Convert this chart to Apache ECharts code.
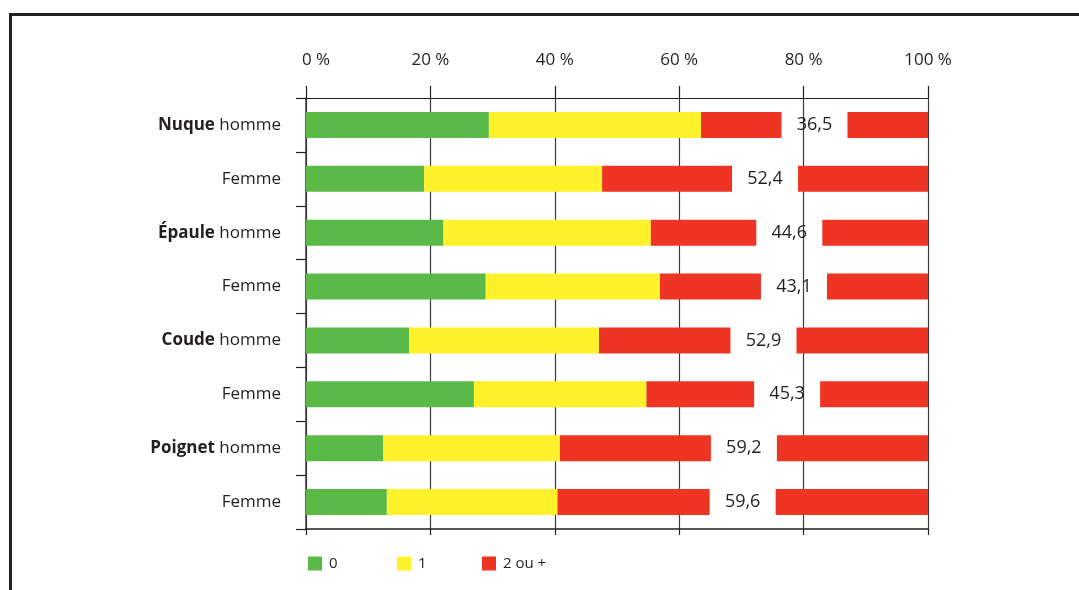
<!DOCTYPE html>
<html>
<head>
<meta charset="utf-8">
<script src="https://cdn.jsdelivr.net/npm/echarts@6/dist/echarts.min.js"></script>
<style>
  html, body { margin: 0; padding: 0; background: #fff; }
  #frame { position: absolute; left: 9px; top: 13px; width: 1200px; height: 700px;
           border-left: 3px solid #231f20; border-top: 3px solid #231f20; }
  #chart { position: absolute; left: 0; top: 0; width: 1079px; height: 590px; }
</style>
</head>
<body>
<div id="frame"></div>
<div id="chart"></div>
<script>
// Share of respondents by number of painful episodes, per joint and sex (%)
const categories = ['Nuque homme', 'Femme', 'Épaule homme', 'Femme', 'Coude homme', 'Femme', 'Poignet homme', 'Femme'];
const seriesNames = ['0', '1', '2 ou +'];
const zero    = [29.4, 19.0, 22.1, 28.9, 16.6, 27.0, 12.4, 13.0];
const one     = [34.1, 28.6, 33.3, 28.0, 30.5, 27.7, 28.4, 27.4];
const twoPlus = [36.5, 52.4, 44.6, 43.1, 52.9, 45.3, 59.2, 59.6];
const xTicks  = [0, 20, 40, 60, 80, 100];

const GREEN = '#5bba47', YELLOW = '#fff12a', RED = '#ee3524', INK = '#231f20';
const BAR_H = 26, GAP = 66;

const chart = echarts.init(document.getElementById('chart'), null, { renderer: 'canvas' });

// red segment: two pieces separated by a gap that holds the value
function renderRed(params, api) {
  const cat = api.value(0), start = api.value(1), val = api.value(2);
  const p0 = api.coord([start, cat]);
  const p1 = api.coord([start + val, cat]);
  const y = p0[1] - BAR_H / 2;
  const mid = (p0[0] + p1[0]) / 2;
  const style = { fill: RED };
  return {
    type: 'group',
    children: [
      { type: 'rect', shape: { x: p0[0], y: y, width: mid - GAP / 2 - p0[0], height: BAR_H }, style: style },
      { type: 'rect', shape: { x: mid + GAP / 2, y: y, width: p1[0] - mid - GAP / 2, height: BAR_H }, style: style },
      { type: 'text', x: mid, y: p0[1],
        style: { text: val.toFixed(1).replace('.', ','), fill: INK, fontSize: 18,
                 fontFamily: 'Open Sans', align: 'center', verticalAlign: 'middle' } }
    ]
  };
}

const legendBase = {
  top: 556, padding: 0, icon: 'rect', itemWidth: 14, itemHeight: 14, itemGap: 0,
  textStyle: { fontSize: 15, color: INK, fontFamily: 'Open Sans', padding: [0, 0, 0, 2] }
};

chart.setOption({
  animation: false,
  textStyle: { fontFamily: 'Open Sans' },
  grid: { left: 306, right: 151, top: 98, bottom: 61, containLabel: false },
  legend: [
    Object.assign({}, legendBase, { left: 308, data: [seriesNames[0]] }),
    Object.assign({}, legendBase, { left: 397, data: [seriesNames[1]] }),
    Object.assign({}, legendBase, { left: 482, data: [seriesNames[2]] })
  ],
  xAxis: [
    {
      type: 'value', position: 'top', min: xTicks[0], max: xTicks[xTicks.length - 1], interval: 20,
      axisLine: { show: true, lineStyle: { color: INK, width: 1.2 } },
      axisTick: { show: true, length: 12, lineStyle: { color: INK, width: 1.2 } },
      axisLabel: {
        margin: 29, color: INK, fontFamily: 'Open Sans', fontSize: 17,
        // the first label sits just right of its tick
        formatter: v => (v === xTicks[0] ? '{first|' : '{t|') + v + ' %}',
        rich: {
          t: { fontSize: 17, color: INK, fontFamily: 'Open Sans' },
          first: { fontSize: 17, color: INK, fontFamily: 'Open Sans', padding: [0, 0, 0, 20] }
        }
      },
      splitLine: { show: true, lineStyle: { color: '#3a3a3a', width: 1.2 } }
    },
    {
      type: 'value', position: 'bottom', min: xTicks[0], max: xTicks[xTicks.length - 1], interval: 20,
      axisLine: { show: true, lineStyle: { color: INK, width: 1.5 } },
      axisTick: { show: true, length: 6, lineStyle: { color: INK, width: 1.2 } },
      axisLabel: { show: false },
      splitLine: { show: false }
    }
  ],
  yAxis: {
    type: 'category', inverse: true, data: categories,
    axisLine: { show: true, lineStyle: { color: '#3a3a3a', width: 1.5 } },
    axisTick: { show: true, length: 10, lineStyle: { color: INK, width: 1.2 } },
    axisLabel: {
      margin: 25, color: INK, fontSize: 17, fontFamily: 'Open Sans',
      formatter: function (name) {
        const i = name.indexOf(' homme');
        if (i > 0) return '{b|' + name.slice(0, i) + '} {n|homme}';
        return '{n|' + name + '}';
      },
      rich: {
        b: { fontWeight: 'bold', fontSize: 17, color: INK, fontFamily: 'Open Sans' },
        n: { fontSize: 17, color: INK, fontFamily: 'Open Sans' }
      }
    }
  },
  series: [
    { name: seriesNames[0], type: 'bar', stack: 'total', barWidth: BAR_H, data: zero,
      itemStyle: { color: GREEN }, z: 3 },
    { name: seriesNames[1], type: 'bar', stack: 'total', barWidth: BAR_H, data: one,
      itemStyle: { color: YELLOW }, z: 3 },
    { name: seriesNames[2], type: 'custom', renderItem: renderRed, itemStyle: { color: RED }, z: 3,
      encode: { x: [1, 2], y: 0 },
      data: twoPlus.map((v, i) => [i, zero[i] + one[i], v]) }
  ]
});
</script>
</body>
</html>
